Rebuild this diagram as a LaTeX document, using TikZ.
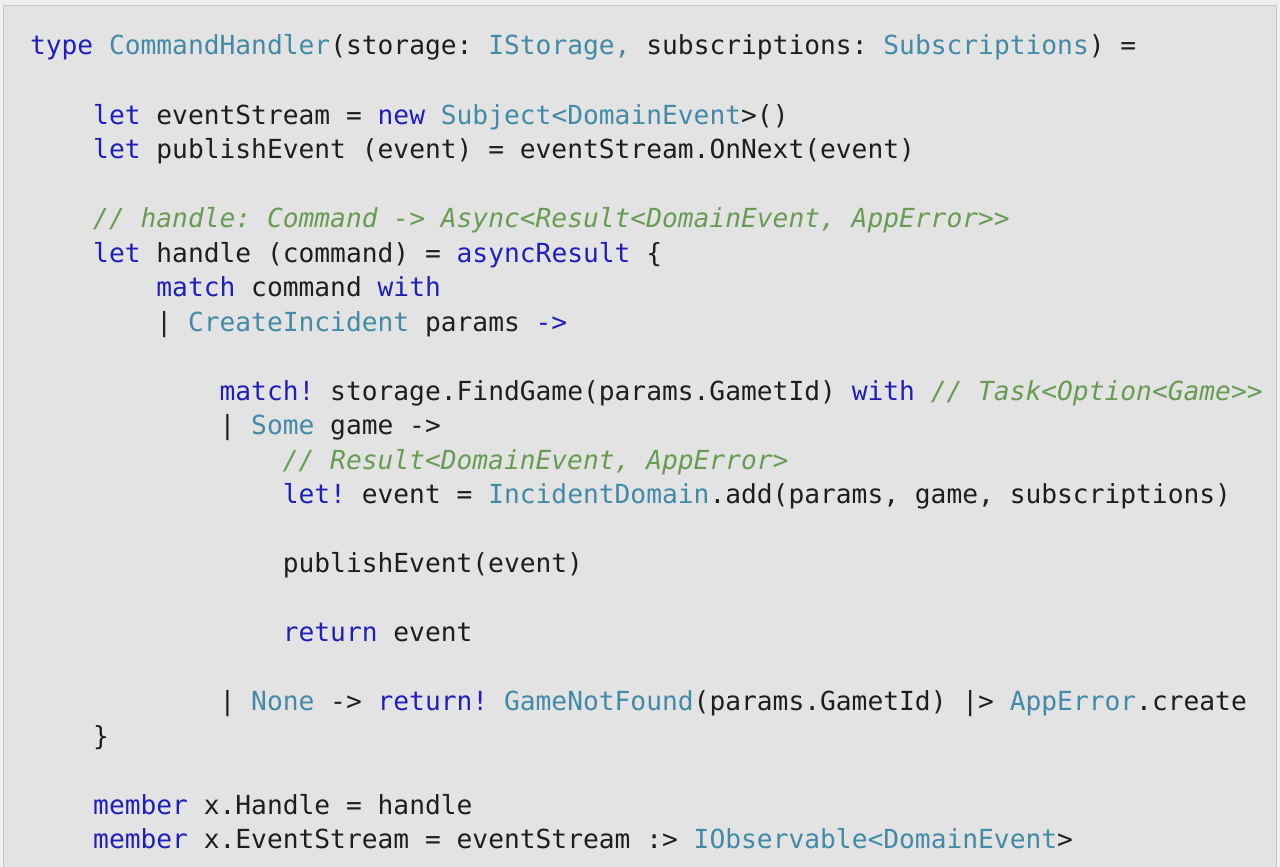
\documentclass[tikz,border=0pt]{standalone}
\usepackage{fontspec}
\setmonofont{DejaVu Sans Mono}[ItalicFont={DejaVu Sans Mono Oblique}]
\definecolor{kw}{RGB}{32,32,185}
\definecolor{ty}{RGB}{66,138,166}
\definecolor{cm}{RGB}{104,156,84}
\definecolor{tx}{RGB}{30,30,30}
\definecolor{bg}{RGB}{227,227,227}
\definecolor{edge}{RGB}{239,239,239}
\definecolor{rim}{RGB}{200,200,200}
\newcommand\KW[1]{\textcolor{kw}{#1}}
\newcommand\TY[1]{\textcolor{ty}{#1}}
\newcommand\CM[1]{\textcolor{cm}{\itshape #1}}
\begin{document}
\begin{tikzpicture}[x=1pt,y=1pt,
  codeline/.style={anchor=base west,inner sep=0pt,outer sep=0pt,text=tx,
    font=\ttfamily\fontsize{26.25}{34.5}\selectfont}]
\useasboundingbox (0,0) rectangle (1280,-867);
\fill[edge] (0,0) rectangle (1280,-867);
\filldraw[fill=bg,draw=rim,line width=1pt] (3,-6) rectangle (1276,-870);
\def\cw{15.8}
\def\lh{34.5}
\newcommand\codeat[4]{\node[codeline] (#1) at ({30+#2*\cw},{-(55+(#3-1)*\lh)}) {#4};}
\codeat{l1}{0}{1}{\KW{type} \TY{CommandHandler}(storage: \TY{IStorage,} subscriptions: \TY{Subscriptions}) =}
\codeat{l3}{4}{3}{\KW{let} eventStream = \KW{new} \TY{Subject<DomainEvent}>()}
\codeat{l4}{4}{4}{\KW{let} publishEvent (event) = eventStream.OnNext(event)}
\codeat{l6}{4}{6}{\CM{// handle: Command -> Async<Result<DomainEvent, AppError>>}}
\codeat{l7}{4}{7}{\KW{let} handle (command) = \KW{asyncResult} \{}
\codeat{l8}{8}{8}{\KW{match} command \KW{with}}
\codeat{l9}{8}{9}{| \TY{CreateIncident} params \KW{->}}
\codeat{l11}{12}{11}{\KW{match!} storage.FindGame(params.GametId) \KW{with} \CM{// Task<Option<Game>>}}
\codeat{l12}{12}{12}{| \TY{Some} game ->}
\codeat{l13}{16}{13}{\CM{// Result<DomainEvent, AppError>}}
\codeat{l14}{16}{14}{\KW{let!} event = \TY{IncidentDomain}.add(params, game, subscriptions)}
\codeat{l16}{16}{16}{publishEvent(event)}
\codeat{l18}{16}{18}{\KW{return} event}
\codeat{l20}{12}{20}{| \TY{None} -> \KW{return!} \TY{GameNotFound}(params.GametId) |> \TY{AppError}.create}
\codeat{l21}{4}{21}{\}}
\codeat{l23}{4}{23}{\KW{member} x.Handle = handle}
\codeat{l24}{4}{24}{\KW{member} x.EventStream = eventStream :> \TY{IObservable<DomainEvent}>}
\end{tikzpicture}
\end{document}
